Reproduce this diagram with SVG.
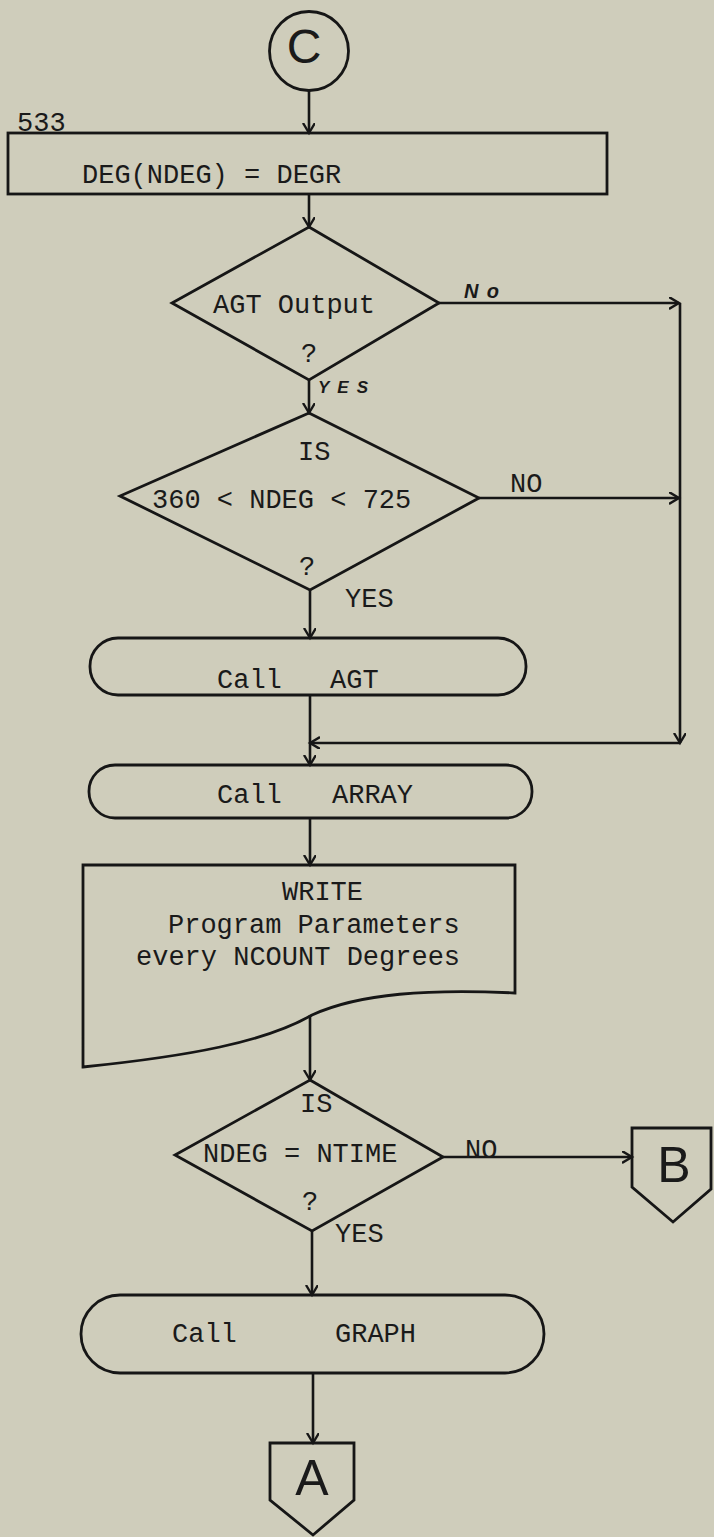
<svg xmlns="http://www.w3.org/2000/svg" width="714" height="1537" viewBox="0 0 714 1537">
<style>
.bg{fill:#cfcdbb}
.sh{fill:none;stroke:#161616;stroke-width:2.8;stroke-linejoin:miter}
.ln{fill:none;stroke:#161616;stroke-width:2.6}
.t{font-family:"Liberation Mono","DejaVu Sans Mono",monospace;font-size:27px;fill:#1a1a1a}
.s{font-family:"Liberation Sans",Arial,sans-serif;fill:#1a1a1a}
.h{font-family:"Liberation Sans",Arial,sans-serif;font-style:italic;font-weight:bold;fill:#1a1a1a}
</style>
<defs>
<marker id="arr" markerUnits="userSpaceOnUse" markerWidth="14" markerHeight="14" refX="10" refY="6" orient="auto">
<path d="M0,0 L10,6 L0,12" fill="none" stroke="#161616" stroke-width="2.4"/>
</marker>
</defs>
<rect class="bg" x="0" y="0" width="714" height="1537"/>

<g id="connectors">
<path class="ln" d="M309,90 V133" marker-end="url(#arr)"/>
<path class="ln" d="M309,194 V227" marker-end="url(#arr)"/>
<path class="ln" d="M309,380 V413" marker-end="url(#arr)"/>
<path class="ln" d="M439,303 H679" marker-end="url(#arr)"/>
<path class="ln" d="M680,303 V743" marker-end="url(#arr)"/>
<path class="ln" d="M680,743 H310" marker-end="url(#arr)"/>
<path class="ln" d="M479,498 H679" marker-end="url(#arr)"/>
<path class="ln" d="M310,590 V638" marker-end="url(#arr)"/>
<path class="ln" d="M310,695 V765" marker-end="url(#arr)"/>
<path class="ln" d="M310,818 V865" marker-end="url(#arr)"/>
<path class="ln" d="M310,1015 V1080" marker-end="url(#arr)"/>
<path class="ln" d="M443,1157 H632" marker-end="url(#arr)"/>
<path class="ln" d="M312,1231 V1295" marker-end="url(#arr)"/>
<path class="ln" d="M313,1373 V1443" marker-end="url(#arr)"/>
<text class="h" x="464" y="298" font-size="20" textLength="35" lengthAdjust="spacing">No</text>
<text class="h" x="318" y="393" font-size="17" textLength="50" lengthAdjust="spacing">YES</text>
<text class="t" x="510" y="492">NO</text>
<text class="t" x="345" y="607">YES</text>
<text class="t" x="465" y="1158">NO</text>
<text class="t" x="335" y="1242">YES</text>
</g>

<g id="connector-C">
<circle class="sh" cx="309" cy="51" r="39.5"/>
<text class="s" x="304" y="63" font-size="48" text-anchor="middle">C</text>
</g>

<g id="step-533">
<rect class="sh" x="8" y="133" width="599" height="61"/>
<text class="t" x="17" y="131" font-size="24">533</text>
<text class="t" x="82" y="183">DEG(NDEG) = DEGR</text>
</g>

<g id="decision-agt-output">
<polygon class="sh" points="309,227 439,303 309,380 172,303"/>
<text class="t" x="213" y="313">AGT Output</text>
<text class="t" x="301" y="362">?</text>
</g>

<g id="decision-ndeg-range">
<polygon class="sh" points="309,413 479,498 310,590 120,496"/>
<text class="t" x="298" y="460">IS</text>
<text class="t" x="152" y="508">360 &lt; NDEG &lt; 725</text>
<text class="t" x="299" y="575">?</text>
</g>

<g id="call-agt">
<rect class="sh" x="90" y="638" width="436" height="57" rx="28" ry="28"/>
<text class="t" y="688"><tspan x="217">Call</tspan> <tspan x="330">AGT</tspan></text>
</g>

<g id="call-array">
<rect class="sh" x="89" y="765" width="443" height="53" rx="26" ry="26"/>
<text class="t" y="803"><tspan x="217">Call</tspan> <tspan x="332">ARRAY</tspan></text>
</g>

<g id="write-document">
<path class="sh" d="M83,1067 V865 H515 V993 C430,989 360,993 312,1015 C265,1042 190,1056 83,1067 Z"/>
<text class="t" x="282" y="900">WRITE</text>
<text class="t" x="168" y="933">Program Parameters</text>
<text class="t" x="136" y="965">every NCOUNT Degrees</text>
</g>

<g id="decision-ntime">
<polygon class="sh" points="310,1080 443,1157 312,1231 175,1155"/>
<text class="t" x="300" y="1112">IS</text>
<text class="t" x="203" y="1162">NDEG = NTIME</text>
<text class="t" x="302" y="1210">?</text>
</g>

<g id="connector-B">
<path class="sh" d="M632,1128 H711 V1189 L673,1222 L632,1187 Z"/>
<text class="s" x="674" y="1182" font-size="50" text-anchor="middle">B</text>
</g>

<g id="call-graph">
<rect class="sh" x="81" y="1295" width="463" height="78" rx="39" ry="39"/>
<text class="t" y="1342"><tspan x="172">Call</tspan> <tspan x="335">GRAPH</tspan></text>
</g>

<g id="connector-A">
<path class="sh" d="M270,1443 H354 V1500 L313,1535 L270,1500 Z"/>
<text class="s" x="312" y="1495" font-size="50" text-anchor="middle">A</text>
</g>
</svg>
